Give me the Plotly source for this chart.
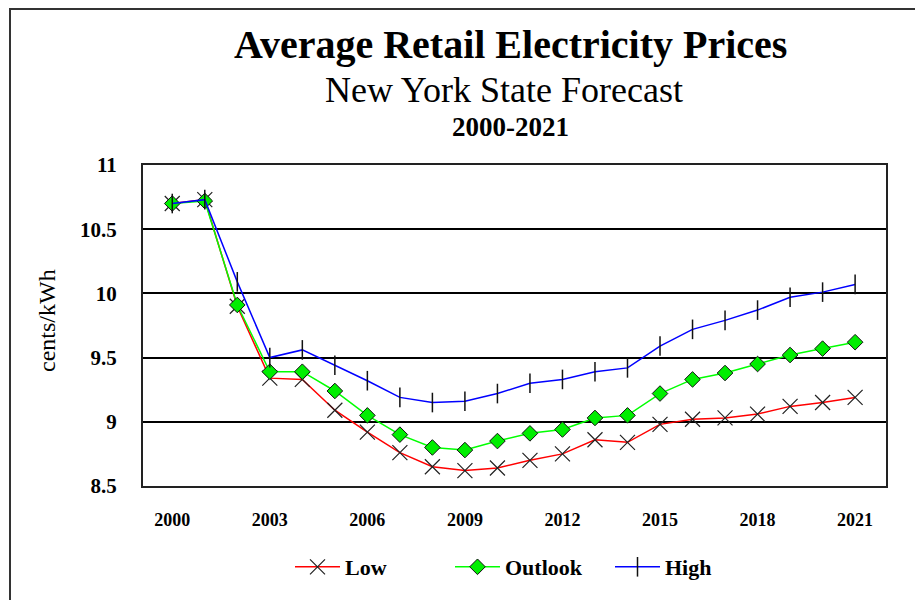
import plotly.graph_objects as go

years = list(range(2000, 2022))

low = [10.70, 10.73, 9.90, 9.34, 9.33, 9.09, 8.92, 8.76, 8.65, 8.62, 8.64,
       8.70, 8.75, 8.86, 8.84, 8.98, 9.02, 9.03, 9.06, 9.12, 9.15, 9.19]
outlook = [10.70, 10.72, 9.91, 9.39, 9.39, 9.24, 9.05, 8.90, 8.80, 8.78, 8.85,
           8.91, 8.94, 9.03, 9.05, 9.22, 9.33, 9.38, 9.45, 9.52, 9.57, 9.62]
high = [10.70, 10.73, 10.09, 9.50, 9.56, 9.44, 9.32, 9.19, 9.15, 9.16, 9.22,
        9.30, 9.33, 9.39, 9.42, 9.59, 9.72, 9.79, 9.87, 9.97, 10.01, 10.07]

x_ticks = [2000, 2003, 2006, 2009, 2012, 2015, 2018, 2021]
y_ticks = [8.5, 9, 9.5, 10, 10.5, 11]
y_labels = ["8.5", "9", "9.5", "10", "10.5", "11"]

SERIF = "Liberation Serif, Times New Roman, serif"

# plot area on screen (page has 8px body margin)
PL, PR, PT, PB = 143, 886, 165, 486


def px(sx):
    return (sx - PL) / (PR - PL)


def py(sy):
    return (PB - sy) / (PB - PT)


fig = go.Figure()
fig.add_trace(go.Scatter(
    x=years, y=low, name="Low", mode="lines+markers",
    line=dict(color="#ff0000", width=1.5),
    marker=dict(symbol="x-thin-open", size=15, color="#222222",
                line=dict(color="#222222", width=1.2)),
))
fig.add_trace(go.Scatter(
    x=years, y=outlook, name="Outlook", mode="lines+markers",
    line=dict(color="#00ff00", width=1.5),
    marker=dict(symbol="diamond", size=12, color="#00ee00",
                line=dict(color="#111111", width=1)),
))
fig.add_trace(go.Scatter(
    x=years, y=high, name="High", mode="lines+markers",
    line=dict(color="#0000ff", width=1.5),
    marker=dict(symbol="line-ns-open", size=14, color="#111111",
                line=dict(color="#111111", width=1.5)),
))

fig.update_layout(
    width=923, height=600,
    margin=dict(l=PL - 8, r=931 - PR, t=PT - 8, b=608 - PB),
    paper_bgcolor="white", plot_bgcolor="white",
    font=dict(family=SERIF, color="black"),
    showlegend=True,
    legend=dict(
        orientation="h", x=px(290), xanchor="left", y=py(567), yanchor="middle",
        font=dict(family=SERIF, size=22, color="black", weight="bold"),
        itemwidth=45, entrywidth=100,
    ),
    xaxis=dict(
        range=[1999.1, 2021.95], tickvals=x_ticks, showgrid=False,
        zeroline=False, showline=True, linecolor="#222222", linewidth=2,
        mirror=True, ticks="", ticklabelstandoff=16,
        tickfont=dict(family=SERIF, size=18, weight="bold"),
    ),
    yaxis=dict(
        range=[8.5, 11], tickvals=y_ticks, ticktext=y_labels,
        showgrid=True, gridcolor="black", gridwidth=1.5,
        zeroline=False, showline=True, linecolor="#222222", linewidth=2,
        mirror=True, ticks="", ticklabelstandoff=20,
        tickfont=dict(family=SERIF, size=21, weight="bold"),
    ),
    annotations=[
        dict(text="<b>Average Retail Electricity Prices</b>", x=px(510), y=py(45),
             font=dict(size=40)),
        dict(text="New York State Forecast", x=px(504), y=py(90),
             font=dict(size=36)),
        dict(text="<b>2000-2021</b>", x=px(510), y=py(127),
             font=dict(size=27)),
        dict(text="cents/kWh", x=px(47), y=py(321), textangle=-90,
             font=dict(size=24)),
    ],
    shapes=[
        dict(type="rect", xref="paper", yref="paper",
             x0=px(10), x1=px(960), y0=py(640), y1=py(9),
             line=dict(color="#333333", width=2), layer="below"),
    ],
)

fig.update_annotations(xref="paper", yref="paper", showarrow=False,
                       xanchor="center", yanchor="middle")

fig.write_html("out.html")
